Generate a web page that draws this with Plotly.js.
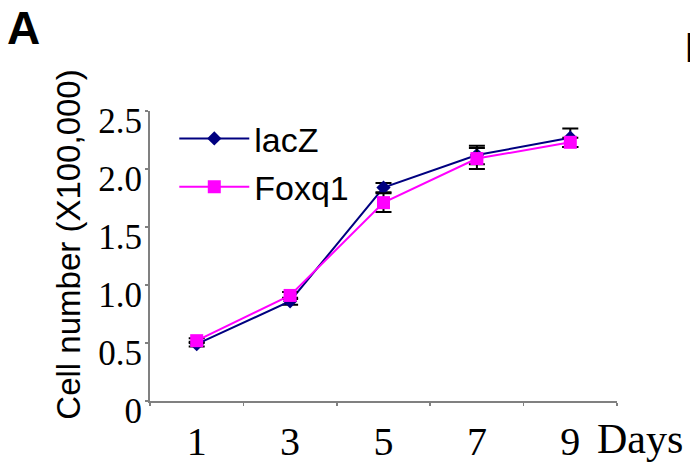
<!DOCTYPE html>
<html>
<head>
<meta charset="utf-8">
<script src="https://cdn.plot.ly/plotly-3.0.1.min.js"></script>
<style>html,body{margin:0;padding:0;background:#fff;}#chart{width:690px;height:469px;}</style>
</head>
<body>
<div id="chart"></div>
<script>
// Data
var days = ["1", "3", "5", "7", "9"];
var lacZ = [0.49, 0.86, 1.84, 2.12, 2.27];
var lacZErr = [0.02, 0.03, 0.04, 0.08, 0.08];
var foxq1 = [0.52, 0.91, 1.71, 2.09, 2.23];
var foxq1Err = [0.02, 0.03, 0.08, 0.09, 0.04];
var yTickVals = [0, 0.5, 1.0, 1.5, 2.0, 2.5];
var yTickText = ["0", "0.5", "1.0", "1.5", "2.0", "2.5"];

var SANS = "Liberation Sans, Arial, sans-serif";
var SERIF = "Liberation Serif, Times New Roman, serif";

var traces = [
  {
    x: days, y: lacZ, name: "lacZ", type: "scatter", mode: "lines+markers",
    line: {color: "#000080", width: 2},
    marker: {symbol: "diamond", size: 11, color: "#000080"},
    error_y: {type: "data", array: lacZErr, visible: true, color: "#000000", thickness: 2, width: 8},
    legendgroup: "a"
  },
  {
    x: days, y: foxq1, name: "Foxq1", type: "scatter", mode: "lines+markers",
    line: {color: "#FF00FF", width: 2},
    marker: {symbol: "square", size: 13, color: "#FF00FF"},
    error_y: {type: "data", array: foxq1Err, visible: true, color: "#000000", thickness: 2, width: 8},
    legendgroup: "b"
  }
];

var layout = {
  width: 690, height: 469,
  margin: {l: 150, r: 73, t: 111, b: 68, pad: 0},
  paper_bgcolor: "#ffffff", plot_bgcolor: "#ffffff",
  showlegend: true,
  legend: {
    x: 0.052, y: 1.004, xanchor: "left", yanchor: "top",
    font: {family: SANS, size: 34, color: "#000"},
    bgcolor: "rgba(0,0,0,0)", tracegroupgap: 1, itemwidth: 70,
    traceorder: "grouped"
  },
  xaxis: {
    type: "category", range: [-0.5, 4.5],
    showgrid: false, zeroline: false,
    showline: true, linecolor: "#808080", linewidth: 2,
    ticks: "outside", tickson: "boundaries", ticklen: 3, tickcolor: "#808080", tickwidth: 1.5,
    tickfont: {family: SERIF, size: 40, color: "#000"},
    ticklabelstandoff: 4
  },
  yaxis: {
    range: [0, 2.5], tickvals: yTickVals, ticktext: yTickText,
    showgrid: false, zeroline: false,
    showline: true, linecolor: "#808080", linewidth: 2,
    ticks: "outside", ticklen: 3, tickcolor: "#808080", tickwidth: 1.5,
    tickfont: {family: SERIF, size: 35, color: "#000"},
    ticklabelshift: 10, ticklabelstandoff: -4
  },
  annotations: [
    {text: "Cell number (X100,000)", xref: "paper", yref: "paper", x: -0.175, y: 0.54,
     textangle: -90, showarrow: false, xanchor: "center", yanchor: "middle",
     font: {family: SANS, size: 33, color: "#000"}},
    {text: "Days", xref: "paper", yref: "paper", x: 0.953, y: -0.131,
     showarrow: false, xanchor: "left", yanchor: "middle",
     font: {family: SERIF, size: 42, color: "#000"}},
    {text: "<b>A</b>", xref: "paper", yref: "paper", x: -0.31, y: 1.285,
     showarrow: false, xanchor: "left", yanchor: "middle",
     font: {family: SANS, size: 46, color: "#000"}},
    {text: "<b>B</b>", xref: "paper", yref: "paper", x: 1.142, y: 1.22,
     showarrow: false, xanchor: "left", yanchor: "middle",
     font: {family: SANS, size: 42, color: "#000"}}
  ]
};

Plotly.newPlot("chart", traces, layout, {displayModeBar: false, staticPlot: true});
</script>
</body>
</html>
